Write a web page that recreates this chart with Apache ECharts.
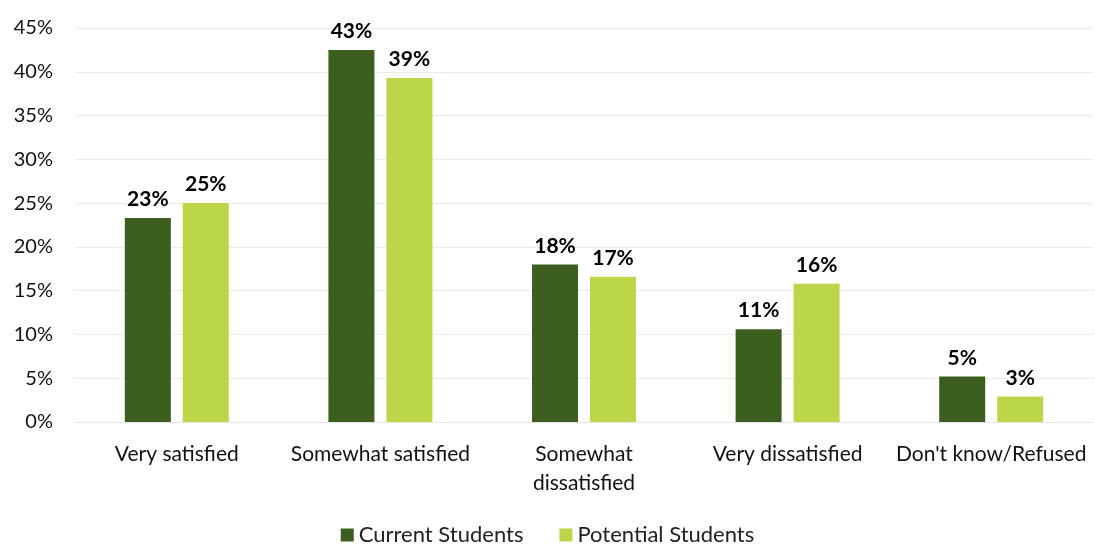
<!DOCTYPE html>
<html>
<head>
<meta charset="utf-8">
<script src="https://cdn.jsdelivr.net/npm/echarts@6/dist/echarts.min.js"></script>
<style>
  html, body { margin: 0; padding: 0; background: #ffffff; }
  #chart { width: 1095px; height: 546px; }
</style>
</head>
<body>
<div id="chart"></div>
<script>
// Satisfaction levels, current vs potential students (percent)
const categories = ['Very satisfied', 'Somewhat satisfied', 'Somewhat\ndissatisfied', 'Very dissatisfied', "Don't know/Refused"];
const currentStudents = [23.3, 42.5, 18.0, 10.6, 5.2];
const potentialStudents = [25.0, 39.3, 16.6, 15.8, 2.9];
const seriesNames = ['Current Students', 'Potential Students'];

const FONT = 'Lato, "Open Sans", sans-serif';
const chart = echarts.init(document.getElementById('chart'), null, { renderer: 'canvas' });

const valueLabel = {
  show: true,
  position: 'top',
  distance: 8,
  fontFamily: FONT,
  fontWeight: 'bold',
  fontSize: 21,
  color: '#000000',
  formatter: p => Math.round(p.value) + '%'
};

chart.setOption({
  animation: false,
  grid: { left: 75, right: 2, top: 28, bottom: 124 },
  legend: {
    data: seriesNames,
    bottom: -5,
    left: 'center',
    itemWidth: 13,
    itemHeight: 13,
    itemGap: 36,
    icon: 'rect',
    textStyle: { fontFamily: FONT, fontSize: 22, color: '#222222' }
  },
  xAxis: {
    type: 'category',
    data: categories,
    axisLine: { show: true, lineStyle: { color: '#e6e6e6', width: 1 } },
    axisTick: { show: false },
    axisLabel: {
      fontFamily: FONT,
      fontSize: 21,
      color: '#111111',
      margin: 18,
      lineHeight: 29,
      interval: 0
    }
  },
  yAxis: {
    type: 'value',
    min: 0,
    max: 45,
    interval: 5,
    axisLine: { show: false },
    axisTick: { show: false },
    splitLine: { lineStyle: { color: '#ebebeb', width: 1 } },
    axisLabel: {
      fontFamily: FONT,
      fontSize: 20,
      color: '#111111',
      margin: 22,
      formatter: v => v + '%'
    }
  },
  series: [
    {
      name: seriesNames[0],
      type: 'bar',
      data: currentStudents,
      barWidth: 46,
      barGap: '26%',
      itemStyle: { color: '#3c5f1f' },
      label: valueLabel
    },
    {
      name: seriesNames[1],
      type: 'bar',
      data: potentialStudents,
      barWidth: 46,
      itemStyle: { color: '#bcd64a' },
      label: valueLabel
    }
  ]
});
</script>
</body>
</html>
